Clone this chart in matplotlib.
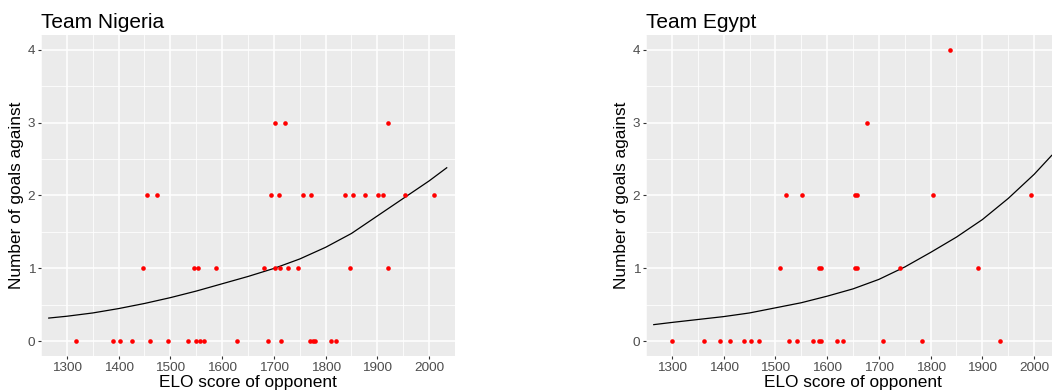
import numpy as np
import matplotlib
matplotlib.use("Agg")
import matplotlib.pyplot as plt

plt.rcParams['font.family'] = ['Liberation Sans', 'DejaVu Sans']

# Nigeria: ELO of opponent and goals conceded
nigeria_elo = [1318, 1390, 1402, 1426, 1461, 1495, 1535, 1549, 1558, 1565,
               1628, 1688, 1713, 1770, 1775, 1780, 1810, 1821,
               1447, 1546, 1553, 1589, 1681, 1702, 1712, 1728, 1746, 1847, 1920,
               1455, 1474, 1694, 1709, 1756, 1772, 1837, 1852, 1876, 1901, 1911, 1953, 2009,
               1703, 1722, 1921]
nigeria_goals = [0] * 18 + [1] * 11 + [2] * 13 + [3] * 3

# Egypt
egypt_elo = [1300, 1362, 1393, 1413, 1440, 1452, 1468, 1526, 1541, 1572,
             1585, 1588, 1619, 1630, 1708, 1783, 1934,
             1508, 1585, 1588, 1653, 1657, 1741, 1892,
             1521, 1552, 1654, 1658, 1804, 1994,
             1677,
             1837]
egypt_goals = [0] * 17 + [1] * 7 + [2] * 6 + [3] + [4]

# fitted curves
curve_elo = [1265, 1300, 1350, 1400, 1450, 1500, 1550, 1600, 1650,
             1700, 1750, 1800, 1850, 1900, 1950, 2000, 2034]
nigeria_curve = [0.32, 0.345, 0.39, 0.45, 0.52, 0.60, 0.69, 0.79, 0.89,
                 1.0, 1.13, 1.29, 1.48, 1.72, 1.96, 2.2, 2.38]
egypt_curve = [0.23, 0.26, 0.30, 0.34, 0.39, 0.46, 0.53, 0.62, 0.72,
               0.85, 1.02, 1.22, 1.43, 1.67, 1.96, 2.29, 2.55]

teams = ["Team Nigeria", "Team Egypt"]
x_ticks = [1300, 1400, 1500, 1600, 1700, 1800, 1900, 2000]
y_ticks = [0, 1, 2, 3, 4]

fig = plt.figure(figsize=(10.52, 3.92), dpi=100)
W_, H_ = 1052.0, 392.0
positions = [(41, 35, 414, 321), (646, 35, 414, 321)]
data = [(nigeria_elo, nigeria_goals, nigeria_curve),
        (egypt_elo, egypt_goals, egypt_curve)]

for (px, py, pw, ph), title, (xe, yg, yc) in zip(positions, teams, data):
    ax = fig.add_axes([px / W_, 1 - (py + ph) / H_, pw / W_, ph / H_])
    ax.set_facecolor('#EBEBEB')
    for sp in ax.spines.values():
        sp.set_visible(False)
    ax.set_xlim(1265, 2034)
    ax.set_ylim(-0.2, 4.2)
    ax.set_xticks(x_ticks)
    ax.set_yticks(y_ticks)
    ax.set_xticks([1250 + 100 * i for i in range(9)], minor=True)
    ax.set_yticks([0.5, 1.5, 2.5, 3.5], minor=True)
    ax.grid(which='major', color='white', lw=1.1)
    ax.grid(which='minor', color='white', lw=0.55)
    ax.set_axisbelow(True)
    ax.tick_params(which='major', length=2.2, width=0.8, color='#333333',
                   labelsize=9.7, labelcolor='#4D4D4D', pad=2.0)
    ax.tick_params(which='minor', length=0)

    ax.plot(curve_elo, yc, color='black', lw=0.9)
    ax.scatter(xe, yg, s=11, color='#FF0000', linewidths=0, zorder=3)

    ax.set_title(title, loc='left', fontsize=15, pad=5)
    ax.set_xlabel('ELO score of opponent', fontsize=12.4, labelpad=0.5)
    ax.set_ylabel('Number of goals against', fontsize=12.4, labelpad=2.5)

fig.savefig('out.png', dpi=100)
